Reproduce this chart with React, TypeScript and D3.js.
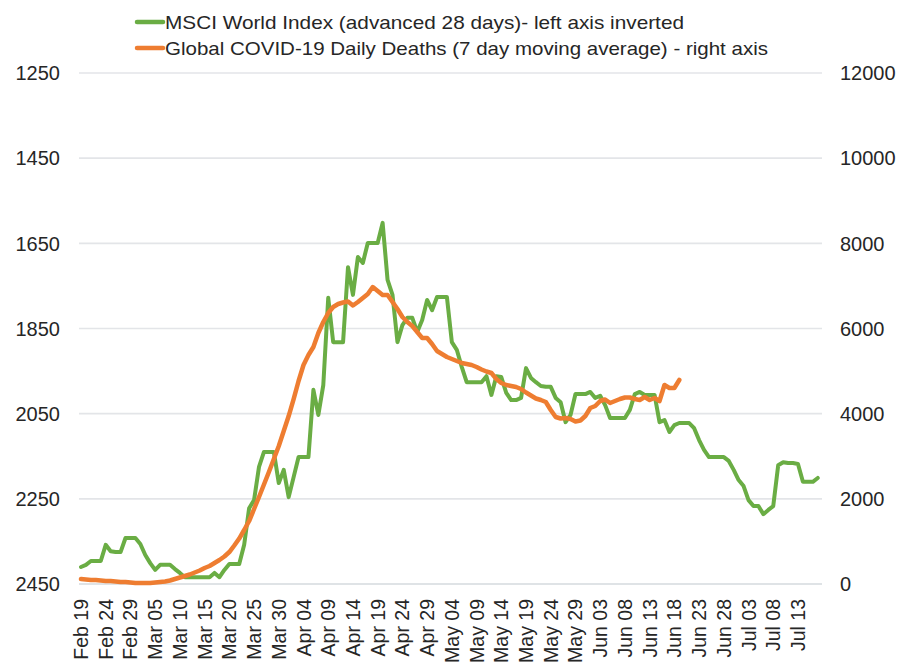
import React from "react";
import * as d3 from "d3";

// MSCI World Index (advanced 28 days) – daily, starting Feb 19 (left axis, inverted)
const msciValues: number[] = [
  2410, 2405, 2396, 2396, 2396, 2358, 2373, 2375, 2375, 2342,
  2342, 2342, 2356, 2382, 2401, 2417, 2405, 2405, 2405, 2415,
  2424, 2434, 2434, 2434, 2434, 2434, 2434, 2424, 2434, 2417,
  2403, 2403, 2403, 2358, 2272, 2253, 2175, 2140, 2140, 2140,
  2213, 2182, 2246, 2199, 2152, 2152, 2152, 1994, 2053, 1983,
  1778, 1882, 1882, 1882, 1706, 1771, 1682, 1696, 1649, 1649,
  1649, 1602, 1736, 1771, 1882, 1842, 1825, 1825, 1858, 1830,
  1783, 1807, 1776, 1776, 1776, 1882, 1900, 1940, 1976, 1976,
  1976, 1976, 1962, 2006, 1962, 1964, 2001, 2018, 2018, 2013,
  1943, 1966, 1976, 1985, 1987, 1987, 2013, 2023, 2070, 2053,
  2004, 2004, 2004, 1999, 2013, 2008, 2030, 2060, 2060, 2060,
  2060, 2041, 2004, 1999, 2006, 2006, 2006, 2070, 2065, 2093,
  2077, 2072, 2072, 2072, 2084, 2112, 2135, 2152, 2152, 2152,
  2152, 2161, 2182, 2206, 2220, 2253, 2267, 2267, 2286, 2276,
  2267, 2171, 2164, 2166, 2166, 2168, 2210, 2210, 2210, 2201,
];

// Global COVID-19 daily deaths (7 day moving average) – daily, starting Feb 19 (right axis)
const deathsValues: number[] = [
  117, 106, 94, 94, 82, 70, 70, 59, 47, 47,
  35, 23, 23, 23, 23, 35, 47, 59, 82, 117,
  153, 188, 223, 270, 317, 376, 423, 493, 564, 646,
  751, 904, 1068, 1268, 1479, 1761, 2043, 2337, 2630, 2935,
  3241, 3593, 3945, 4344, 4767, 5143, 5378, 5566, 5894, 6153,
  6364, 6505, 6575, 6610, 6634, 6540, 6622, 6716, 6810, 6974,
  6881, 6787, 6787, 6622, 6458, 6270, 6153, 6059, 5918, 5777,
  5777, 5636, 5471, 5401, 5331, 5284, 5237, 5190, 5166, 5143,
  5096, 5037, 4990, 4955, 4814, 4720, 4673, 4649, 4626, 4579,
  4497, 4426, 4356, 4321, 4274, 4086, 3922, 3886, 3898, 3875,
  3816, 3839, 3945, 4133, 4180, 4297, 4333, 4250, 4297, 4344,
  4380, 4380, 4344, 4321, 4391, 4321, 4368, 4297, 4673, 4603,
  4603, 4791,
];

const leftTicks: number[] = [1250, 1450, 1650, 1850, 2050, 2250, 2450];
const rightTicks: number[] = [12000, 10000, 8000, 6000, 4000, 2000, 0];
const xTickLabels: string[] = [
  "Feb 19", "Feb 24", "Feb 29", "Mar 05", "Mar 10", "Mar 15", "Mar 20", "Mar 25",
  "Mar 30", "Apr 04", "Apr 09", "Apr 14", "Apr 19", "Apr 24", "Apr 29", "May 04",
  "May 09", "May 14", "May 19", "May 24", "May 29", "Jun 03", "Jun 08", "Jun 13",
  "Jun 18", "Jun 23", "Jun 28", "Jul 03", "Jul 08", "Jul 13",
];
const legendLabels: string[] = [
  "MSCI World Index (advanced 28 days)- left axis inverted",
  "Global COVID-19 Daily Deaths (7 day moving average) - right axis",
];

const startDate = new Date(2020, 1, 19);
const endDate = new Date(2020, 6, 18);
const dayAt = (i: number) => d3.timeDay.offset(startDate, i);

const GREEN = "#6aad44";
const ORANGE = "#ee7d31";
const FONT = "'Liberation Sans', Arial, sans-serif";

export default function App() {
  const W = 898;
  const H = 665;
  const plotLeft = 79;
  const plotRight = 822;
  const top = 73;
  const bottom = 584;

  const x = d3.scaleTime().domain([startDate, endDate]).range([81, 822.7]);
  const yL = d3.scaleLinear().domain([1250, 2450]).range([top, bottom]);
  const yR = d3.scaleLinear().domain([0, 12000]).range([bottom, top]);

  const greenLine = d3
    .line<number>()
    .x((_, i) => x(dayAt(i)))
    .y((v) => yL(v));
  const orangeLine = d3
    .line<number>()
    .x((_, i) => x(dayAt(i)))
    .y((v) => yR(v));

  const parseTick = d3.timeParse("%b %d %Y");

  return (
    <svg
      width={W}
      height={H}
      style={{ position: "absolute", left: 0, top: 0, background: "#fff" }}
    >
      {/* gridlines */}
      {leftTicks.map((t) => (
        <line
          key={t}
          x1={plotLeft}
          x2={plotRight}
          y1={yL(t)}
          y2={yL(t)}
          stroke={t === 2450 ? "#d5dade" : "#e3e5e8"}
          strokeWidth={1.6}
        />
      ))}
      {/* left axis labels */}
      {leftTicks.map((t) => (
        <text
          key={"l" + t}
          x={60}
          y={yL(t)}
          dy="0.36em"
          textAnchor="end"
          fontFamily={FONT}
          fontSize={20}
          fill="#262626"
        >
          {t}
        </text>
      ))}
      {/* right axis labels */}
      {rightTicks.map((t) => (
        <text
          key={"r" + t}
          x={840}
          y={yR(t)}
          dy="0.36em"
          textAnchor="start"
          fontFamily={FONT}
          fontSize={20}
          fill="#262626"
        >
          {t}
        </text>
      ))}
      {/* x labels */}
      {xTickLabels.map((lab) => {
        const d = parseTick(lab + " 2020") as Date;
        const xx = x(d);
        return (
          <text
            key={lab}
            transform={`translate(${xx},599) rotate(-90)`}
            textAnchor="end"
            dy="0.36em"
            fontFamily={FONT}
            fontSize={19.5}
            fill="#262626"
          >
            {lab}
          </text>
        );
      })}
      {/* series */}
      <path
        d={greenLine(msciValues) ?? ""}
        fill="none"
        stroke={GREEN}
        strokeWidth={4}
        strokeLinejoin="round"
        strokeLinecap="round"
      />
      <path
        d={orangeLine(deathsValues) ?? ""}
        fill="none"
        stroke={ORANGE}
        strokeWidth={4.5}
        strokeLinejoin="round"
        strokeLinecap="round"
      />
      {/* legend */}
      {[GREEN, ORANGE].map((c, i) => (
        <g key={c}>
          <line
            x1={137}
            x2={163}
            y1={22 + i * 26}
            y2={22 + i * 26}
            stroke={c}
            strokeWidth={4.5}
            strokeLinecap="round"
          />
          <text
            x={165}
            y={22 + i * 26}
            dy="0.36em"
            fontFamily={FONT}
            fontSize={19}
            fill="#262626"
            textLength={i === 0 ? 519 : 603}
            lengthAdjust="spacingAndGlyphs"
          >
            {legendLabels[i]}
          </text>
        </g>
      ))}
    </svg>
  );
}
